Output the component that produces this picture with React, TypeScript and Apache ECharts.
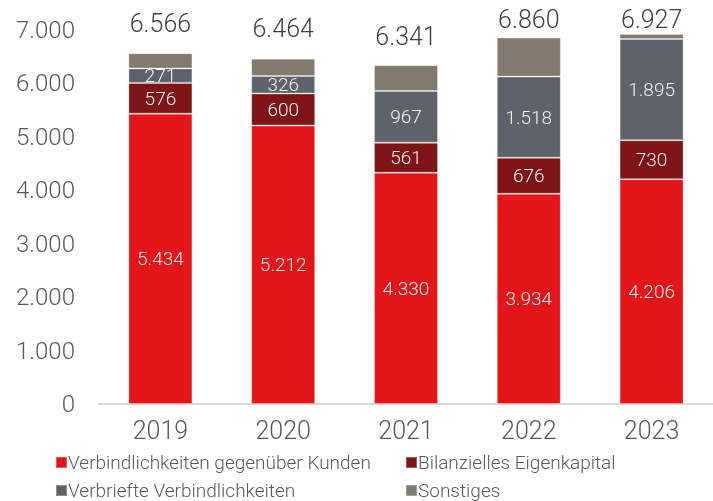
import React, { useEffect, useRef } from "react";
import * as echarts from "echarts";

const years = ["2019", "2020", "2021", "2022", "2023"];
const kunden = [5434, 5212, 4330, 3934, 4206];
const eigenkapital = [576, 600, 561, 676, 730];
const verbrieft = [271, 326, 967, 1518, 1895];
const sonstiges = [285, 326, 483, 732, 96];
const totals = [6566, 6464, 6341, 6860, 6927];
const totalLabelDistance = [17, 18, 16, 5, 2];

const seriesNames = [
  "Verbindlichkeiten gegenüber Kunden",
  "Bilanzielles Eigenkapital",
  "Verbriefte Verbindlichkeiten",
  "Sonstiges",
];
const colors = ["#E41518", "#7E1416", "#5E636B", "#82796F"];
const legendPos = [
  { left: 55, top: 453 },
  { left: 405, top: 453 },
  { left: 55, top: 481 },
  { left: 405, top: 481 },
];

const fmt = (v: number) => v.toLocaleString("de-DE");
const FONT = "Roboto";

export default function App() {
  const ref = useRef<HTMLDivElement>(null);
  useEffect(() => {
    if (!ref.current) return;
    const chart = echarts.init(ref.current, undefined, { renderer: "svg" });
    const inLabel = {
      show: true,
      position: "inside",
      color: "#F2F2F2",
      fontSize: 19,
      fontFamily: FONT,
      fontWeight: 300,
      formatter: (p: any) => fmt(p.value),
    };
    const barBase = {
      type: "bar",
      stack: "total",
      barWidth: 64,
      itemStyle: { borderColor: "rgba(255,255,255,0.3)", borderWidth: 1 },
    };
    chart.setOption({
      animation: false,
      color: colors,
      textStyle: { fontFamily: FONT },
      grid: { left: 99, right: -19, top: 30, bottom: 97, containLabel: false },
      xAxis: {
        type: "category",
        data: years,
        axisLine: { lineStyle: { color: "#D9D9D9", width: 2 } },
        axisTick: { show: false },
        axisLabel: {
          color: "#595959",
          fontSize: 25,
          fontFamily: FONT,
          fontWeight: 300,
          margin: 14,
        },
      },
      yAxis: {
        type: "value",
        min: 0,
        max: 7000,
        interval: 1000,
        splitLine: { show: false },
        axisLine: { show: false },
        axisTick: { show: false },
        axisLabel: {
          color: "#595959",
          fontSize: 24,
          fontFamily: FONT,
          fontWeight: 300,
          margin: 24,
          formatter: (v: number) => fmt(v),
        },
      },
      legend: seriesNames.map((name, i) => ({
        data: [name],
        orient: "horizontal",
        left: legendPos[i].left,
        top: legendPos[i].top,
        padding: 0,
        itemWidth: 11,
        itemHeight: 11,
        icon: "rect",
        textStyle: {
          color: "#595959",
          fontSize: 19,
          fontFamily: FONT,
          fontWeight: 300,
          lineHeight: 19,
          padding: [0, 0, 0, -4],
        },
      })),
      series: [
        { ...barBase, name: seriesNames[0], data: kunden, label: inLabel },
        { ...barBase, name: seriesNames[1], data: eigenkapital, label: inLabel },
        { ...barBase, name: seriesNames[2], data: verbrieft, label: inLabel },
        {
          ...barBase,
          name: seriesNames[3],
          data: sonstiges.map((v, i) => ({
            value: v,
            label: { distance: totalLabelDistance[i] },
          })),
          label: {
            show: true,
            position: "top",
            color: "#404040",
            fontSize: 25,
            fontFamily: FONT,
            fontWeight: 300,
            formatter: (p: any) => fmt(totals[p.dataIndex]),
          },
        },
      ],
    });
    return () => chart.dispose();
  }, []);
  return (
    <div
      ref={ref}
      style={{ position: "fixed", left: 0, top: 0, width: 713, height: 501 }}
    />
  );
}
